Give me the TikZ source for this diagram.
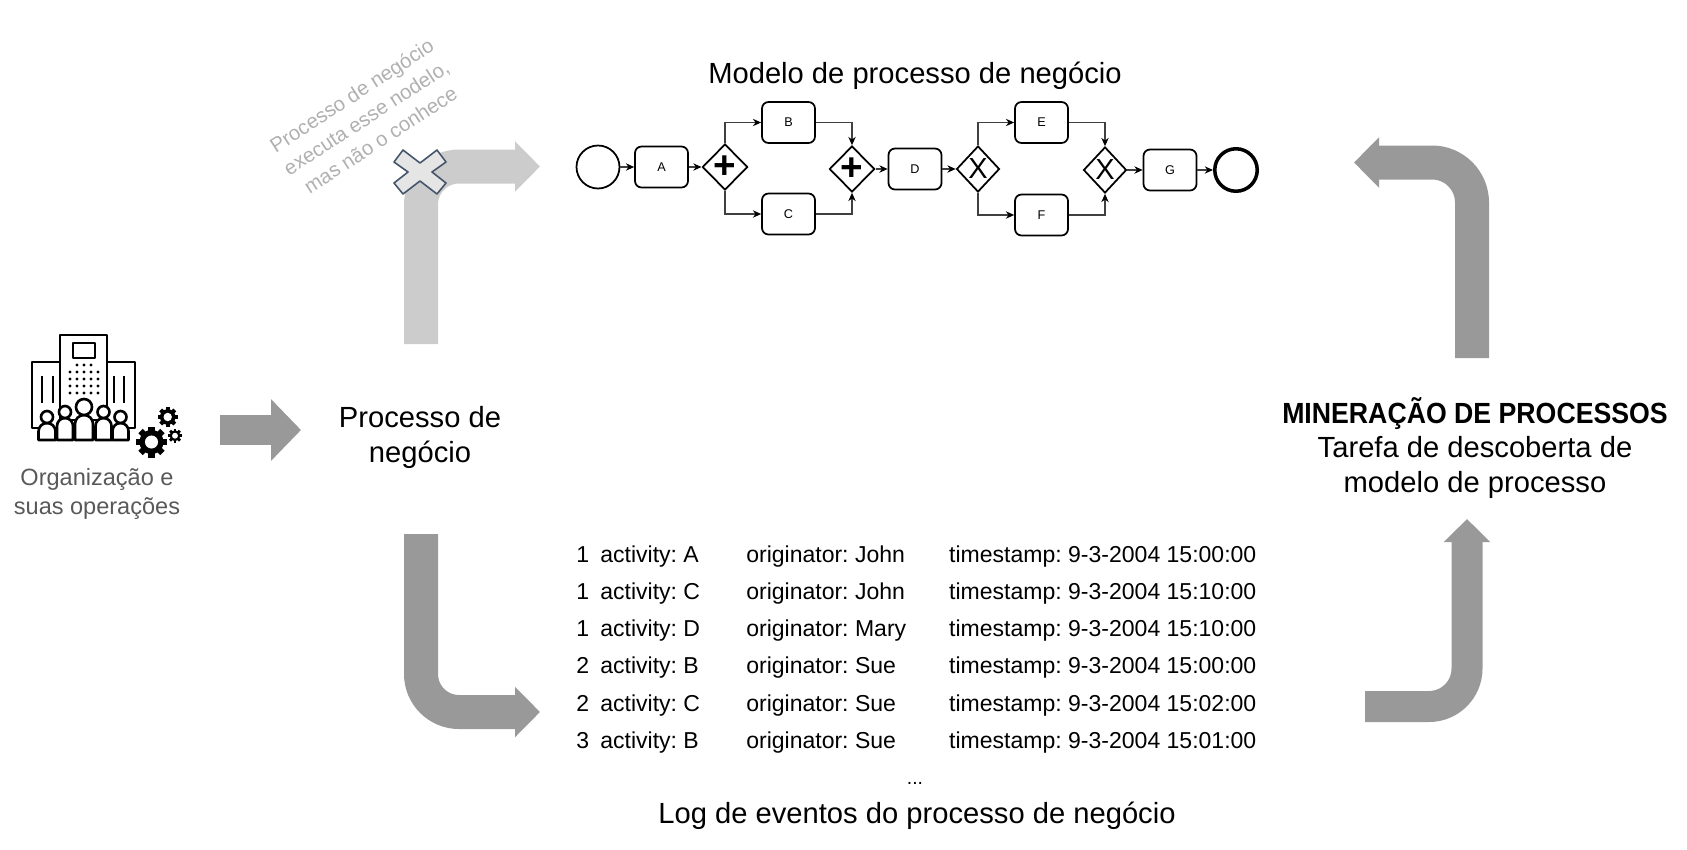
\documentclass[tikz,border=0pt]{standalone}
\usepackage{fontspec}
\setmainfont{Liberation Sans}
\newfontfamily\narrowbold[FakeStretch=0.915]{Liberation Sans}
\usetikzlibrary{shapes.geometric,arrows.meta}
\newcommand{\person}[4]{% x, half width, top of the body, head radius
	\draw[icon,fill=white] (#1-#2,440) -- (#1-#2,#3+#2) arc[start angle=180,end angle=360,radius=#2] -- (#1+#2,440) -- cycle;
	\draw[icon,fill=white] (#1,#3-#4) circle[radius=#4];
}
\newcommand{\gearicon}[3]{% x, y, radius
	\foreach \ang in {0,45,90,135}
		\fill[rotate around={\ang:(#1,#2)}] ({#1-0.2*#3},{#2-#3}) rectangle ({#1+0.2*#3},{#2+#3});
	\fill (#1,#2) circle[radius=0.78*#3];
	\fill[white] (#1,#2) circle[radius=0.42*#3];
}
\tikzset{
	task/.style={draw,rectangle,rounded corners=0.13cm,line width=1pt,minimum width=1.06cm,minimum height=0.82cm,inner sep=0pt,font=\fontsize{7.2}{8}\selectfont},
	gate/.style={draw,diamond,line width=1pt,minimum width=0.86cm,minimum height=0.92cm,inner sep=0pt},
	plusgate/.style={gate,font=\bfseries\fontsize{22}{22}\selectfont},
	xorgate/.style={gate,font=\fontsize{16.5}{17}\selectfont},
	flow/.style={-{Stealth[length=4.7pt,width=4.2pt,color=black]},line width=0.6pt,draw=black!75},
	fatarrow/.style={line width=0.68cm,rounded corners=0.76cm},
	icon/.style={line width=1.5pt,line join=round},
	heading/.style={font=\fontsize{16.6}{19.9}\selectfont,align=center,inner sep=0pt}
}

\begin{document}
\begin{tikzpicture}[x=0.02cm,y=-0.02cm]
	\definecolor{arrowgrey}{HTML}{999999}
	\definecolor{lightgrey}{HTML}{CCCCCC}
	\definecolor{notegrey}{HTML}{B0B0B0}
	\definecolor{crossblue}{HTML}{44546A}
	\useasboundingbox (0,0) rectangle (1687,849);

	% organisation icon
	\draw[icon] (32,428) -- (32,362) -- (135,362) -- (135,428) -- cycle;
	\draw[icon,fill=white] (60,420) -- (60,335) -- (107,335) -- (107,420) -- cycle;
	\draw[icon] (73,343) rectangle (95,358);
	\foreach \slit in {42,53,114,124}
		\draw[icon] (\slit,376) -- (\slit,403);
	\foreach \dotx in {77,84,91}
		\fill (\dotx,365) circle[radius=1.6];
	\foreach \doty in {372,379,386,393}
		\foreach \dotx in {70,77,84,91,98}
			\fill (\dotx,\doty) circle[radius=1.6];
	\person{47}{8.5}{423}{6}
	\person{120.5}{8}{423}{6}
	\person{65}{8}{418}{6}
	\person{103.5}{8}{418}{6}
	\person{84}{9}{415}{8}
	\gearicon{151.5}{442}{15.5}
	\gearicon{167.7}{417}{10}
	\gearicon{175}{435.7}{7}

	\node[font=\fontsize{13.4}{16.2}\selectfont,text=black!65,align=center,inner sep=0pt] (org) at (97,494) {Organização e\\suas operações};
	\node[heading] (proc) at (420,437) {Processo de\\negócio};
	\node[heading] (mining) at (1475,448) {{\narrowbold\bfseries MINERAÇÃO DE PROCESSOS}\\Tarefa de descoberta de\\modelo de processo};
	\node[heading] (modeltitle) at (915,75.5) {Modelo de processo de negócio};
	\node[heading] (logtitle) at (917,816) {Log de eventos do processo de negócio};

	% fat arrows
	\coordinate (orgout) at (220,430);
	\coordinate (procin) at (301,430);
	\coordinate (procup) at (421,344);
	\coordinate (modelin) at (540,166.5);
	\coordinate (procdown) at (421,534);
	\coordinate (login) at (540,712);
	\coordinate (logout) at (1365,706.5);
	\coordinate (miningin) at (1467,519);
	\coordinate (miningup) at (1472,358);
	\coordinate (modelout) at (1354,162.5);
	\draw[fatarrow,draw=arrowgrey,line width=0.6cm,-{Triangle[length=0.6cm,width=1.2cm]}] (orgout) -- (procin);
	\draw[fatarrow,draw=lightgrey,-{Triangle[length=0.5cm,width=0.98cm]}] (procup) |- (modelin);
	\draw[fatarrow,draw=arrowgrey,-{Triangle[length=0.5cm,width=0.98cm]}] (procdown) |- (login);
	\draw[fatarrow,draw=arrowgrey,line width=0.62cm,-{Triangle[length=0.46cm,width=0.9cm]}] (logout) -| (miningin);
	\draw[fatarrow,draw=arrowgrey,rounded corners=0.8cm,-{Triangle[length=0.5cm,width=0.98cm]}] (miningup) |- (modelout);

	% cross and its note
	\draw[draw=crossblue,fill=black!10,line width=0.9pt,line join=round] (403,150) -- (420,163) -- (437,150) -- (446,162) -- (432,172) -- (446,183) -- (437,194) -- (420,181) -- (403,194) -- (394,183) -- (408,172) -- (394,162) -- cycle;
	\node[rotate=33,text=notegrey,align=center,inner sep=0pt,font=\frenchspacing\fontsize{11.6}{15}\selectfont] (note) at (366,117.5) {Processo de negócio\\executa esse nodelo,\\mas não o conhece};

	% bpmn model
	\node[draw,circle,line width=1pt,minimum size=0.86cm,inner sep=0pt] (start) at (598,167) {};
	\node[task] (a) at (661.5,167) {A};
	\node[plusgate] (split) at (725,167) {+};
	\node[task] (b) at (788.5,122.5) {B};
	\node[task] (c) at (788.5,214) {C};
	\node[plusgate] (join) at (852,169) {+};
	\node[task] (d) at (915,169) {D};
	\node[xorgate] (xsplit) at (978,169) {X};
	\node[task] (e) at (1041.5,122.5) {E};
	\node[task] (f) at (1041.5,215) {F};
	\node[xorgate] (xjoin) at (1105,170) {X};
	\node[task] (g) at (1170,170) {G};
	\node[draw,circle,line width=2pt,minimum size=0.85cm,inner sep=0pt] (end) at (1236,170) {};
	\draw[flow] (start) -- (a);
	\draw[flow] (a) -- (split);
	\draw[flow] (split.north) |- (b.west);
	\draw[flow] (split.south) |- (c.west);
	\draw[flow] (b.east) -| (join.north);
	\draw[flow] (c.east) -| (join.south);
	\draw[flow] (join) -- (d);
	\draw[flow] (d) -- (xsplit);
	\draw[flow] (xsplit.north) |- (e.west);
	\draw[flow] (xsplit.south) |- (f.west);
	\draw[flow] (e.east) -| (xjoin.north);
	\draw[flow] (f.east) -| (xjoin.south);
	\draw[flow] (xjoin) -- (g);
	\draw[flow] (g) -- (end);

	% event log
	\node[anchor=north west,inner sep=0pt,font=\frenchspacing\fontsize{13.1}{21.2}\selectfont] (log) at (576,535.6) {
		\begin{tabular}{@{}p{0.48cm}@{}p{2.92cm}@{}p{4.06cm}@{}l@{}}
			1 & activity: A & originator: John & timestamp: 9-3-2004 15:00:00\\
			1 & activity: C & originator: John & timestamp: 9-3-2004 15:10:00\\
			1 & activity: D & originator: Mary & timestamp: 9-3-2004 15:10:00\\
			2 & activity: B & originator: Sue & timestamp: 9-3-2004 15:00:00\\
			2 & activity: C & originator: Sue & timestamp: 9-3-2004 15:02:00\\
			3 & activity: B & originator: Sue & timestamp: 9-3-2004 15:01:00
		\end{tabular}};
	\node[inner sep=0pt,font=\fontsize{11}{12}\selectfont] (dots) at (915,783) {...};
\end{tikzpicture}
\end{document}
